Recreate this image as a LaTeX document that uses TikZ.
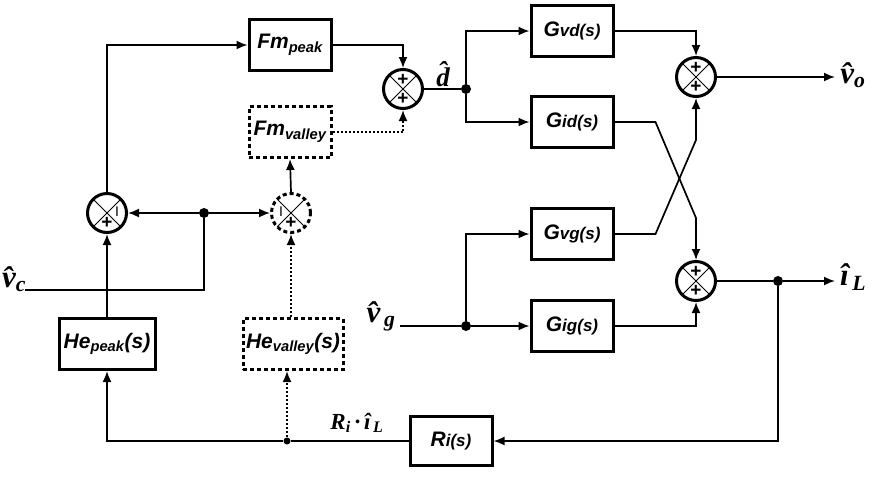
\documentclass[tikz,border=0pt]{standalone}
\usepackage{fontspec}
\setmainfont{Liberation Serif}
\newfontfamily\blockfont{Liberation Sans}
\usetikzlibrary{
  arrows.meta,
  calc,
  positioning,
}
\newcommand{\blksmall}[1]{{\fontsize{17}{17}\selectfont #1}}
\tikzstyle{block} = [
  rectangle,
  draw,
  line width=3pt,
  minimum width=82,
  minimum height=51,
  inner sep=0pt,
  font=\blockfont\bfseries\itshape\fontsize{21}{21}\selectfont,
]
\tikzstyle{dblock} = [block, dash pattern=on 4pt off 3pt]
\tikzstyle{summer} = [
  circle,
  draw,
  line width=3pt,
  minimum size=39,
  inner sep=0pt,
  path picture={
    \draw[line width=0.9pt, solid]
      (path picture bounding box.north west) -- (path picture bounding box.south east)
      (path picture bounding box.north east) -- (path picture bounding box.south west);
  },
]
\tikzstyle{dsummer} = [summer, dash pattern=on 4pt off 3pt]
\tikzstyle{sign} = [inner sep=0pt, font=\blockfont\bfseries\fontsize{19}{19}\selectfont]
\tikzstyle{minus} = [inner sep=0pt, font=\blockfont\fontsize{14}{14}\selectfont]
\tikzstyle{wire} = [line width=1.7pt]
\tikzstyle{arrow} = [
  -{Latex[length=11pt,width=9pt]},
  line width=1.7pt,
]
\tikzstyle{dotline} = [dash pattern=on 2pt off 2pt]
\tikzstyle{dot} = [circle, fill, inner sep=0pt, minimum size=10]
\tikzstyle{sig} = [inner sep=0pt, font=\bfseries\itshape\fontsize{31}{31}\selectfont]

\begin{document}
\begin{tikzpicture}[x=1pt,y=-1pt]
  \useasboundingbox (0,0) rectangle (872,480);

  % blocks
  \node[block]  (Fpeak)    at (290,45)  {Fm\textsubscript{peak}};
  \node[dblock] (Fvalley)  at (290,132) {Fm\textsubscript{valley}};
  \node[block,minimum width=96]  (Hepeak)   at (107,344) {He\textsubscript{peak}(s)};
  \node[dblock,minimum width=100] (Hevalley) at (293,344) {He\textsubscript{valley}(s)};
  \node[block,minimum height=49] (Ri) at (451,441) {R\blksmall{i(s)}};
  \node[block]  (Gvd) at (572,31)  {G\blksmall{vd(s)}};
  \node[block]  (Gid) at (572,122) {G\blksmall{id(s)}};
  \node[block]  (Gvg) at (572,234) {G\blksmall{vg(s)}};
  \node[block]  (Gig) at (572,326) {G\blksmall{ig(s)}};

  % summing junctions
  \node[summer]  (S1) at (107,213) {};
  \node[dsummer] (S2) at (291,213) {};
  \node[summer]  (S3) at (403,89)  {};
  \node[summer]  (S4) at (696,77)  {};
  \node[summer]  (S5) at (696,281) {};
  \node[minus] (S1m) at ($(S1)+(10,-1)$) {I};
  \node[sign]  (S1p) at ($(S1)+(0,10)$)  {+};
  \node[minus] (S2m) at ($(S2)+(-10,-1)$) {I};
  \node[sign]  (S2p) at ($(S2)+(0,10)$)  {+};
  \foreach \s in {S3,S4,S5} {
    \node[sign] (\s t) at ($(\s)+(0,-9)$) {+};
    \node[sign] (\s b) at ($(\s)+(0,10)$) {+};
  }

  % branch points
  \node[dot] (j1) at (204,213) {};
  \node[dot] (j2) at (466,89)  {};
  \node[dot] (j3) at (466,326) {};
  \node[dot] (j4) at (778,281) {};
  \node[dot,minimum size=7] (j5) at (287,441) {};

  % inputs and outputs
  \coordinate (vcin) at (25,290);
  \coordinate (vgin) at (400,326);
  \coordinate (vo) at (835,77);
  \coordinate (iL) at (835,281);
  \node[sig] (vclbl) at (14,279) {\^{v}\textsubscript{c}};
  \node[sig] (vglbl) at (381,316) {\^{v}\textsubscript{\,g}};
  \node[sig] (volbl) at (853,75)  {\^{v}\textsubscript{o}};
  \node[sig] (iLlbl) at (853,277) {\^{\i}\textsubscript{\,L}};
  \node[sig,font=\bfseries\itshape\fontsize{27}{27}\selectfont] (dlbl) at (443,74) {\^{d}};
  \node[sig,font=\bfseries\itshape\fontsize{23}{23}\selectfont] (Rilbl) at (357,423)
    {R\textsubscript{i}\,\textperiodcentered\,\^{\i}\textsubscript{\,L}};

  % connectors
  \draw[arrow] (S1.north) |- (Fpeak.west);
  \draw[arrow] (Fpeak.east) -| (S3.north);
  \draw[arrow,dotline] (Fvalley.east) -| (S3.south);
  \draw[wire] (S3.east) -- (j2);
  \draw[arrow] (j2) |- (Gvd.west);
  \draw[arrow] (j2) |- (Gid.west);
  \draw[arrow] (Gvd.east) -| (S4.north);
  \draw[arrow] (S4.east) -- (vo);
  \draw[arrow] (Gid.east) -- ++(41,0) -- ($(S5.north)+(0,-42)$) -- (S5.north);
  \draw[arrow] (Gvg.east) -- ++(41,0) -- ($(S4.south)+(0,42)$) -- (S4.south);
  \draw[arrow] (Gig.east) -| (S5.south);
  \draw[wire] (vgin) -- (j3);
  \draw[arrow] (j3) -- (Gig.west);
  \draw[arrow] (j3) |- (Gvg.west);
  \draw[wire] (S5.east) -- (j4);
  \draw[arrow] (j4) -- (iL);
  \draw[arrow] (j4) |- (Ri.east);
  \draw[wire] (Ri.west) -- (j5);
  \draw[arrow] (j5) -| (Hepeak.south);
  \draw[arrow,dotline] (j5) -- (j5 |- Hevalley.south);
  \draw[arrow] (Hepeak.north) -- (S1.south);
  \draw[arrow,dotline] (Hevalley.north -| S2) -- (S2.south);
  \draw[arrow] (S2.north) -- (Fvalley.south);
  \draw[arrow] (j1) -- (S1.east);
  \draw[arrow] (j1) -- (S2.west);
  \draw[wire] (vcin) -| (j1);
\end{tikzpicture}
\end{document}
